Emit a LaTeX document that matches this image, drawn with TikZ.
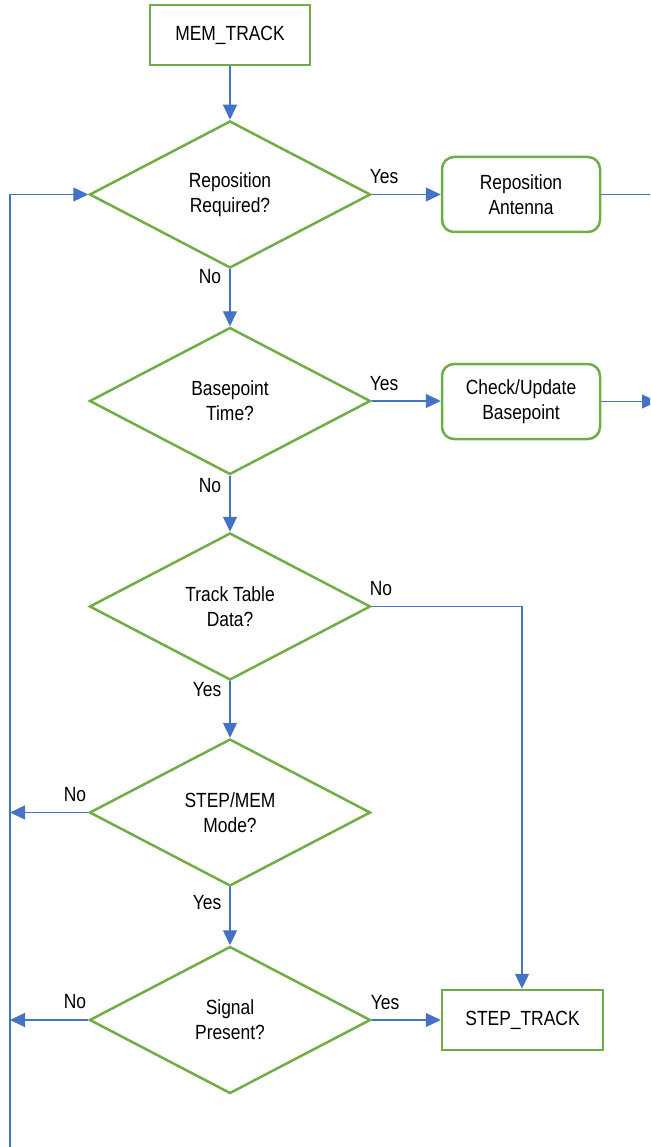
\documentclass[tikz,border=0pt]{standalone}
\usepackage{fontspec}
\setmainfont{Liberation Sans}[FakeStretch=0.85]
\usetikzlibrary{shapes.geometric,arrows.meta}
\definecolor{fcgreen}{HTML}{70AD47}
\definecolor{fcblue}{HTML}{4472C4}
\tikzset{
  every node/.style={font=\fontsize{20.5}{24.7}\selectfont, align=center},
  procbox/.style={draw=fcgreen, line width=2.5pt, inner sep=0pt},
  roundbox/.style={procbox, rounded corners=12pt},
  decision/.style={diamond, draw=fcgreen, line width=2.5pt, inner sep=0pt, minimum width=281pt, minimum height=147pt},
  conn/.style={draw=fcblue, line width=1.3pt},
  arr/.style={conn, -{Triangle[length=15pt,width=14pt]}},
  lbl/.style={inner sep=0pt}
}
\begin{document}
\begin{tikzpicture}[x=1pt,y=-1pt]
\useasboundingbox (0,0) rectangle (650,1147);
\clip (0,0) rectangle (650,1147);
% nodes
\node[procbox, minimum width=160pt, minimum height=60pt] (mem) at (230,35) {MEM\_TRACK};
\node[decision] (d1) at (230,194.5) {Reposition\\Required?};
\node[roundbox, minimum width=158pt, minimum height=75pt] (rep) at (521,194.5) {Reposition\\Antenna};
\node[decision] (d2) at (230,401) {Basepoint\\Time?};
\node[roundbox, minimum width=158pt, minimum height=75pt] (chk) at (521,401.5) {Check/Update\\Basepoint};
\node[decision] (d3) at (230,606.5) {Track Table\\Data?};
\node[decision] (d4) at (230,812.5) {STEP/MEM\\Mode?};
\node[decision] (d5) at (230,1020) {Signal\\Present?};
\node[procbox, minimum width=161pt, minimum height=60pt] (step) at (522.5,1020) {STEP\_TRACK};
% free ends
\coordinate (repout) at (660,194.5);
\coordinate (chkout) at (657,401.5);
\coordinate (corner3) at (522,606.5);
\coordinate (left4) at (10,812.5);
\coordinate (left5) at (10,1020);
\coordinate (loopbot) at (10,1160);
\coordinate (looptop) at (10,194.5);
% connectors
\draw[arr] (mem.south) -- (d1.north);
\draw[arr] (d1.east) -- (rep.west);
\draw[conn] (rep.east) -- (repout);
\draw[arr] (d1.south) -- (d2.north);
\draw[arr] (d2.east) -- (chk.west |- d2.east);
\draw[arr] (chk.east) -- (chkout);
\draw[arr] (d2.south) -- (d3.north);
\draw[arr] (d3.east) -- (corner3) -- (step.north -| corner3);
\draw[arr] (d3.south) -- (d4.north);
\draw[arr] (d4.west) -- (left4);
\draw[arr] (d4.south) -- (d5.north);
\draw[arr] (d5.west) -- (left5);
\draw[arr] (d5.east) -- (step.west);
\draw[arr] (loopbot) -- (looptop) -- (d1.west);
% labels
\node[lbl] (y1) at (384,177) {Yes};
\node[lbl] (n1) at (210,277) {No};
\node[lbl] (y2) at (384,384) {Yes};
\node[lbl] (n2) at (210,486) {No};
\node[lbl] (n3) at (381,589) {No};
\node[lbl] (y3) at (207,690) {Yes};
\node[lbl] (n4) at (75,795) {No};
\node[lbl] (y4) at (207,903) {Yes};
\node[lbl] (n5) at (75,1002) {No};
\node[lbl] (y5) at (385,1003) {Yes};
\end{tikzpicture}
\end{document}
